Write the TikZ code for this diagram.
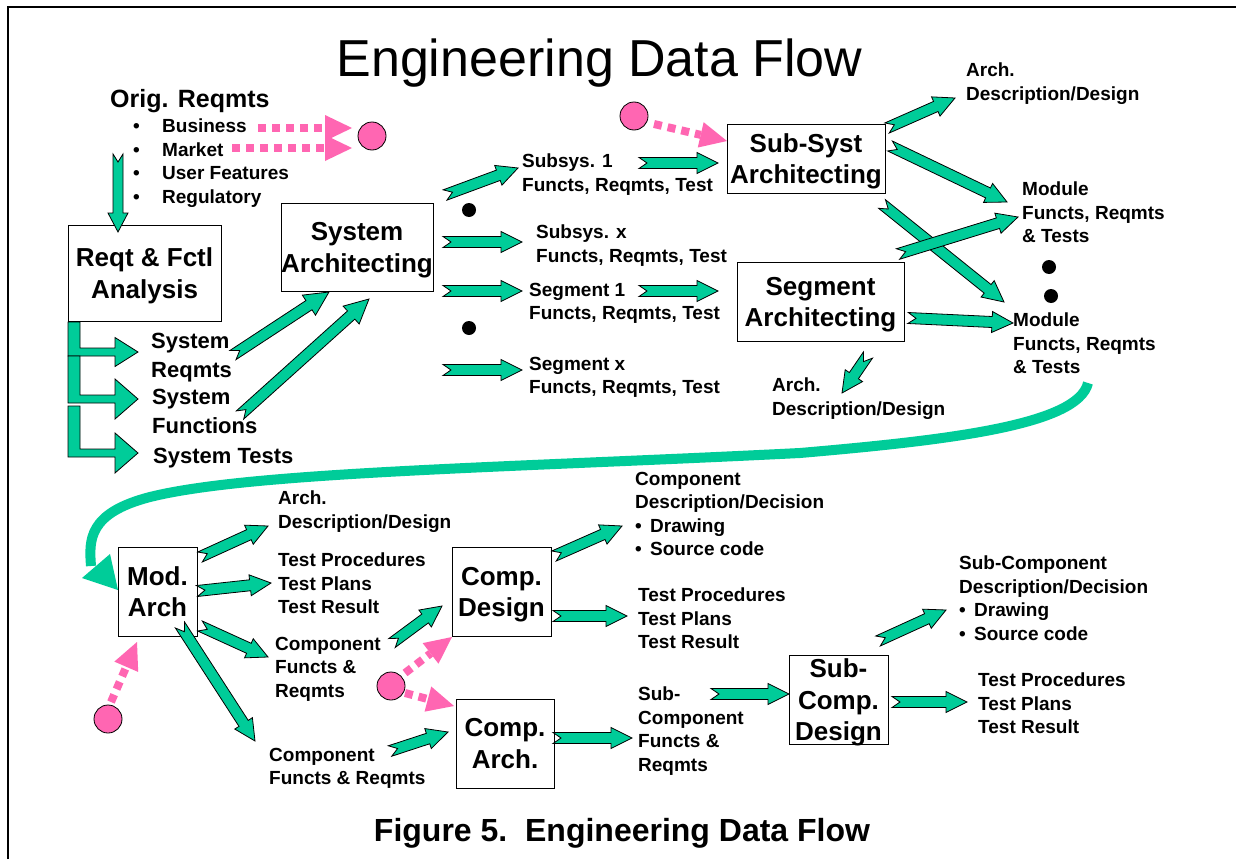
\documentclass[tikz,border=0pt]{standalone}
\usepackage{fontspec}
\setmainfont{Liberation Sans}
\usetikzlibrary{calc}
\definecolor{flowgreen}{RGB}{0,204,153}
\definecolor{flowpink}{RGB}{255,102,178}

\tikzset{
  garrow/.style={fill=flowgreen, draw=black, line width=0.8pt, line join=miter},
  procbox/.style={draw=black, line width=1pt, fill=white, inner sep=0pt},
  boxtxt/.style={inner sep=0pt, align=center,
    font=\bfseries\fontsize{26}{31.5}\selectfont},
  lbl/.style={anchor=north west, inner sep=0pt, align=left,
    font=\bfseries\fontsize{19}{23.5}\selectfont},
  biglbl/.style={anchor=north west, inner sep=0pt, align=left,
    font=\bfseries\fontsize{22}{28.5}\selectfont},
  blackdot/.style={circle, fill=black, inner sep=0pt, minimum size=14pt},
  pinkdot/.style={circle, fill=flowpink, draw=black, line width=0.8pt, inner sep=0pt, minimum size=28pt},
  pinkdash/.style={draw=flowpink, line width=8pt, dash pattern=on 8pt off 6pt},
}

% notched block arrow: tail, tip, shaft half-width, head half-width, head length
\newcommand\blockarrow[5]{%
  \coordinate (bA) at (#1);
  \coordinate (bB) at (#2);
  \coordinate (bC) at ($(bB)!#5!(bA)$);
  \coordinate (bN) at ($(bA)!8pt!(bB)$);
  \filldraw[garrow] ($(bA)!#3!90:(bB)$) -- ($(bC)!#3!90:(bB)$) -- ($(bC)!#4!90:(bB)$)
    -- (bB) -- ($(bC)!#4!-90:(bB)$) -- ($(bC)!#3!-90:(bB)$) -- ($(bA)!#3!-90:(bB)$)
    -- (bN) -- cycle;}
\newcommand\garr[2]{\blockarrow{#1}{#2}{5.5pt}{10.5pt}{21pt}}

% dotted pink arrow: start, tip
\newcommand\pinkarrow[2]{%
  \coordinate (pA) at (#1);
  \coordinate (pB) at (#2);
  \coordinate (pC) at ($(pB)!27pt!(pA)$);
  \draw[pinkdash] (pA) -- (pC);
  \fill[flowpink] ($(pC)!13pt!90:(pB)$) -- (pB) -- ($(pC)!13pt!-90:(pB)$) -- cycle;}

% bent arrow leaving the analysis box: top y, shaft centre y, head half-height
\newcommand\bentarrow[3]{%
  \filldraw[garrow] (68,#1) -- (80,#1) -- (80,#2-4) -- (115,#2-4) -- (115,#2-#3)
    -- (138,#2) -- (115,#2+#3) -- (115,#2+4) -- (68,#2+4) -- cycle;}

\newcommand\itemdot{\makebox[29pt][l]{\textbullet}}
\newcommand\subdot{\makebox[15pt][l]{\textbullet}}

\begin{document}
\begin{tikzpicture}[x=1pt,y=-1pt]
\useasboundingbox (0,0) rectangle (1236,859);
\fill[white] (0,0) rectangle (1236,859);
\draw[line width=2pt] (8,859) -- (8,7) -- (1236,7);

% titles
\node[font=\fontsize{52}{60}\selectfont, anchor=base, inner sep=0pt] (title) at (599.5,77) {Engineering Data Flow};
\node[font=\bfseries\fontsize{32}{38}\selectfont, anchor=base, inner sep=0pt] (caption) at (622,841) {Figure 5.\ \ Engineering Data Flow};

% process boxes
\node[procbox, minimum width=153pt, minimum height=96pt] (reqt) at (144.5,273) {};
\node[procbox, minimum width=152pt, minimum height=88pt] (sysarch) at (357,247) {};
\node[procbox, minimum width=158pt, minimum height=69pt] (subsysarch) at (806,158.5) {};
\node[procbox, minimum width=167pt, minimum height=79pt] (segarch) at (820.5,301.5) {};
\node[procbox, minimum width=79pt, minimum height=89pt] (modarch) at (157.5,591.5) {};
\node[procbox, minimum width=99pt, minimum height=89pt] (compdesign) at (501.5,591.5) {};
\node[procbox, minimum width=98pt, minimum height=89pt] (comparch) at (505,743.5) {};
\node[procbox, minimum width=99pt, minimum height=89pt] (subcomp) at (838.5,699.5) {};

% box titles
\node[boxtxt] (reqt-t) at ([yshift=-3pt]reqt.center) {Reqt \& Fctl\\Analysis};
\node[boxtxt] (sysarch-t) at ([yshift=-3pt]sysarch.center) {System\\Architecting};
\node[boxtxt] (subsysarch-t) at ([yshift=-3pt]subsysarch.center) {Sub-Syst\\Architecting};
\node[boxtxt] (segarch-t) at ([yshift=-3pt]segarch.center) {Segment\\Architecting};
\node[boxtxt] (modarch-t) at (modarch.center) {Mod.\\Arch};
\node[boxtxt] (compdesign-t) at ([yshift=-3pt]compdesign.center) {Comp.\\Design};
\node[boxtxt] (comparch-t) at (comparch.center) {Comp.\\Arch.};
\node[boxtxt] (subcomp-t) at ([yshift=-3pt]subcomp.center) {Sub-\\Comp.\\Design};

% labels
\node[lbl, font=\bfseries\fontsize{25}{30}\selectfont] (orig) at (110,89) {Orig. Reqmts};
\node[lbl] (origlist) at (133,119) {\itemdot Business\\\itemdot Market\\\itemdot User Features\\\itemdot Regulatory};
\node[biglbl] (sysreq) at (151,333) {System\\Reqmts};
\node[biglbl] (sysfun) at (152,389) {System\\Functions};
\node[biglbl] (systest) at (153,448) {System Tests};
\node[lbl] (subsys1) at (522,154) {Subsys. 1\\Functs, Reqmts, Test};
\node[lbl] (subsysx) at (536,225) {Subsys. x\\Functs, Reqmts, Test};
\node[lbl] (seg1) at (529,283) {Segment 1\\Functs, Reqmts, Test};
\node[lbl] (segx) at (529,357) {Segment x\\Functs, Reqmts, Test};
\node[lbl] (segarchout) at (772,378) {Arch.\\Description/Design};
\node[lbl] (subarchout) at (966,63) {Arch.\\Description/Design};
\node[lbl] (module1) at (1022,182) {Module\\Functs, Reqmts\\\& Tests};
\node[lbl] (module2) at (1013,313) {Module\\Functs, Reqmts\\\& Tests};

\node[lbl] (modarchout) at (278,491) {Arch.\\Description/Design};
\node[lbl] (modtest) at (278,553) {Test Procedures\\Test Plans\\Test Result};
\node[lbl] (compfr1) at (275,637) {Component\\Functs \&\\Reqmts};
\node[lbl] (compfr2) at (269,748) {Component\\Functs \& Reqmts};
\node[lbl] (compdesc) at (635,472) {Component\\Description/Decision\\\subdot Drawing\\\subdot Source code};
\node[lbl] (comptest) at (638,588) {Test Procedures\\Test Plans\\Test Result};
\node[lbl] (subcompfr) at (638,687) {Sub-\\Component\\Functs \&\\Reqmts};
\node[lbl] (subcompdesc) at (959,556) {Sub-Component\\Description/Decision\\\subdot Drawing\\\subdot Source code};
\node[lbl] (subcomptest) at (978,673) {Test Procedures\\Test Plans\\Test Result};

% ellipsis dots
\node[blackdot] (dot1) at (469,210) {};
\node[blackdot] (dot2) at (469,328) {};
\node[blackdot] (dot3) at (1049,267) {};
\node[blackdot] (dot4) at (1051,296) {};

% pink sources
\node[pinkdot] (pk1) at (372,136) {};
\node[pinkdot] (pk2) at (634,116) {};
\node[pinkdot] (pk3) at (108,719) {};
\node[pinkdot] (pk4) at (391,686) {};

% arrow end points
\coordinate (orig-out) at (118,154);   \coordinate (reqt-in) at (118,232);
\coordinate (sysreq-out) at (233,355); \coordinate (sysarch-in1) at (329,292);
\coordinate (sysfun-out) at (240,415); \coordinate (sysarch-in2) at (369,299);
\coordinate (sa-o1) at (445,195); \coordinate (subsys1-in) at (518,168);
\coordinate (sa-o2) at (443,242); \coordinate (subsysx-in) at (522,242);
\coordinate (sa-o3) at (443,291); \coordinate (seg1-in) at (522,291);
\coordinate (sa-o4) at (443,370); \coordinate (segx-in) at (522,370);
\coordinate (subsys1-out) at (639,163); \coordinate (ssa-in) at (718,163);
\coordinate (seg1-out) at (639,291); \coordinate (sega-in) at (718,291);
\coordinate (ssa-o1) at (887,128); \coordinate (subarch-in) at (955,98);
\coordinate (ssa-o2) at (890,146); \coordinate (mod1-in) at (1007,202);
\coordinate (ssa-o3) at (882,204); \coordinate (mod2-in) at (1004,302);
\coordinate (sega-o1) at (898,254); \coordinate (mod1-in2) at (1018,217);
\coordinate (sega-o2) at (908,318); \coordinate (mod2-in2) at (1013,323);
\coordinate (sega-o3) at (868,355); \coordinate (segarch-in) at (842,393);
\coordinate (ma-o1) at (200,557); \coordinate (maout-in) at (268,526);
\coordinate (ma-o2) at (197,591); \coordinate (matest-in) at (271,583);
\coordinate (ma-o3) at (200,626); \coordinate (cfr1-in) at (268,657);
\coordinate (ma-o4) at (180,625); \coordinate (cfr2-in) at (255,741);
\coordinate (cfr1-out) at (392,643); \coordinate (cd-in) at (442,606);
\coordinate (cfr2-out) at (390,751); \coordinate (ca-in) at (448,732);
\coordinate (cd-o1) at (554,556); \coordinate (cdesc-in) at (622,526);
\coordinate (cd-o2) at (553,616); \coordinate (ctest-in) at (627,616);
\coordinate (ca-out) at (553,738); \coordinate (scfr-in) at (632,738);
\coordinate (scfr-out) at (711,694); \coordinate (sc-in) at (789,694);
\coordinate (sc-o1) at (878,641); \coordinate (scdesc-in) at (946,610);
\coordinate (sc-o2) at (892,702); \coordinate (sctest-in) at (967,702);

% analysis outputs
\bentarrow{322}{352}{14.5}
\bentarrow{356}{399}{20}
\bentarrow{406}{453}{20}

% green flow arrows
\blockarrow{orig-out}{reqt-in}{5pt}{10pt}{19pt}
\blockarrow{sysreq-out}{sysarch-in1}{5.5pt}{12pt}{24pt}
\blockarrow{sysfun-out}{sysarch-in2}{5.5pt}{12pt}{24pt}
\garr{sa-o1}{subsys1-in}
\garr{sa-o2}{subsysx-in}
\garr{sa-o3}{seg1-in}
\garr{sa-o4}{segx-in}
\garr{subsys1-out}{ssa-in}
\garr{seg1-out}{sega-in}
\garr{ssa-o1}{subarch-in}
\garr{ssa-o2}{mod1-in}
\garr{ssa-o3}{mod2-in}
\garr{sega-o1}{mod1-in2}
\garr{sega-o2}{mod2-in2}
\garr{sega-o3}{segarch-in}
\garr{ma-o1}{maout-in}
\garr{ma-o2}{matest-in}
\garr{ma-o3}{cfr1-in}
\garr{ma-o4}{cfr2-in}
\garr{cfr1-out}{cd-in}
\garr{cfr2-out}{ca-in}
\garr{cd-o1}{cdesc-in}
\garr{cd-o2}{ctest-in}
\garr{ca-out}{scfr-in}
\garr{scfr-out}{sc-in}
\garr{sc-o1}{scdesc-in}
\garr{sc-o2}{sctest-in}

% pink dotted arrows
\pinkarrow{258,128}{352,128}
\pinkarrow{232,148}{352,148}
\coordinate (pk2-out) at (654,124); \coordinate (ssa-pin) at (727,141);
\pinkarrow{pk2-out}{ssa-pin}
\coordinate (pk3-out) at (111,702); \coordinate (ma-pin) at (137,642);
\pinkarrow{pk3-out}{ma-pin}
\coordinate (pk4-o1) at (405,673); \coordinate (cd-pin) at (452,637);
\coordinate (pk4-o2) at (405,693); \coordinate (ca-pin) at (454,706);
\pinkarrow{pk4-o1}{cd-pin}
\pinkarrow{pk4-o2}{ca-pin}

% return path from the module level down to module architecting
\coordinate (mod2-out) at (1088,383);
\coordinate (ma-back) at (91,566);
\coordinate (ma-tip) at (118,590);
\draw[flowgreen, line width=10pt] (mod2-out) .. controls (1078,425) and (950,440) .. (800,453)
  .. controls (500,468) and (250,472) .. (150,497)
  .. controls (88,513) and (89,540) .. (ma-back);
\fill[flowgreen] (82,578) -- (ma-tip) -- (110,554) -- cycle;
\end{tikzpicture}
\end{document}
